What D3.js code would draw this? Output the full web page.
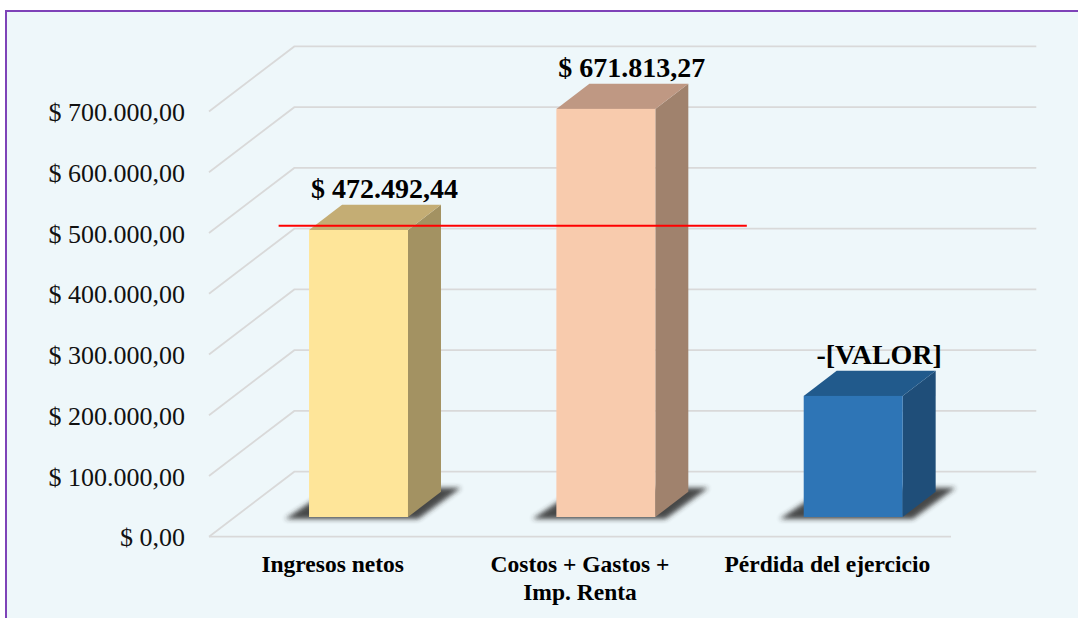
<!DOCTYPE html>
<html>
<head>
<meta charset="utf-8">
<script src="https://cdn.jsdelivr.net/npm/d3@7"></script>
<style>
  body { margin: 0; background: #fff; }
  svg { display: block; }
</style>
</head>
<body>
<svg></svg>
<script>
// data
let categories = ['Ingresos netos', 'Costos + Gastos + Imp. Renta', 'Pérdida del ejercicio'];
let categoryLines = [['Ingresos netos'], ['Costos + Gastos +', 'Imp. Renta'], ['Pérdida del ejercicio']];
let values = [472492.44, 671813.27, 199320.83];
let valueLabels = ['$ 472.492,44', '$ 671.813,27', '-[VALOR]'];
let yTicks = [0, 100000, 200000, 300000, 400000, 500000, 600000, 700000];
let markerValue = [479500]; // hand drawn red line
let markerSpan = [0.177, 2.07]; // in category units

// colours per bar: front, side, top
let frontColors = ['#fee599', '#f8cbad', '#2e75b6'];
let sideColors = ['#a39262', '#a0826d', '#1f4e79'];
let topColors = ['#c4ad74', '#bf9883', '#215a8c'];

let width = 1078, height = 618;
let svg = d3.select('svg').attr('width', width).attr('height', height);

// 3d floor geometry
let floorLeft = 209, floorRight = 951, floorFront = 536.7;
let depthX = 85.3, depthY = -65;
let barStart = 0.303, barDepth = 0.387;

let locale = d3.formatLocale({ decimal: ',', thousands: '.', grouping: [3], currency: ['$ ', ''] });
let fmt = locale.format('$,.2f');

// chart area
svg.append('rect')
    .attr('x', 6).attr('y', 11)
    .attr('width', 1100).attr('height', 700)
    .attr('fill', '#eef7fa')
    .attr('stroke', '#7e43b8')
    .attr('stroke-width', 2);

let defs = svg.append('defs');
defs.append('filter').attr('id', 'shadow')
    .attr('x', '-20%').attr('y', '-50%').attr('width', '140%').attr('height', '200%')
    .append('feGaussianBlur').attr('stdDeviation', 2.5);

// scales
let yScale = d3.scaleLinear().domain([0, 700000]).range([floorFront, floorFront - 425.25]);
let xBand = d3.scaleBand().domain(categories).range([floorLeft, floorRight])
    .paddingInner(0.6).paddingOuter(0.3);
let xCat = d3.scaleBand().domain(categories).range([floorLeft, floorRight]);
let xUnits = d3.scaleLinear().domain([0, categories.length])
    .range([floorLeft + depthX * barStart, floorRight + depthX * barStart]);

// gridlines: side wall diagonal + back wall line
let grid = svg.append('g')
    .attr('fill', 'none')
    .attr('stroke', '#d9d9d9')
    .attr('stroke-width', 1.8);

grid.selectAll('path.grid')
    .data(yTicks)
    .enter()
    .append('path')
    .attr('class', 'grid')
    .attr('d', (d) => {
        let y = yScale(d);
        return `M${floorLeft},${y}L${floorLeft + depthX},${y + depthY}L${floorRight + depthX},${y + depthY}`;
    });

// floor front edge
grid.append('path')
    .attr('d', `M${floorLeft},${yScale(0)}L${floorRight},${yScale(0)}`);

// y axis labels
let yAxis = d3.axisLeft(yScale).tickValues(yTicks).tickFormat(fmt).tickSize(0).tickPadding(24);
let axisG = svg.append('g')
    .attr('transform', `translate(${floorLeft},0)`)
    .call(yAxis);
axisG.select('.domain').remove();
axisG.attr('font-family', '"Liberation Serif", "Times New Roman", serif')
    .attr('font-size', 26);
axisG.selectAll('text').attr('fill', '#111').attr('dy', '0.35em');

// bars
let bw = xBand.bandwidth();
let bdx = depthX * barDepth, bdy = depthY * barDepth;
let base = floorFront + depthY * barStart;

let bars = svg.selectAll('g.bar')
    .data(values)
    .enter()
    .append('g')
    .attr('class', 'bar');

bars.append('polygon')
    .attr('points', (d, i) => {
        let fx = xBand(categories[i]) + depthX * barStart;
        return [
            [fx - 24, base + 2],
            [fx + bw + 10, base + 2],
            [fx + bw + bdx + 20, base + bdy - 4],
            [fx + bdx - 10, base + bdy - 4]
        ].join(' ');
    })
    .attr('fill', '#2b2b2b')
    .attr('opacity', 0.85)
    .attr('filter', 'url(#shadow)');

bars.append('polygon')
    .attr('points', (d, i) => {
        let fx = xBand(categories[i]) + depthX * barStart;
        let top = yScale(d) + depthY * barStart;
        return [
            [fx + bw, top], [fx + bw + bdx, top + bdy],
            [fx + bw + bdx, base + bdy], [fx + bw, base]
        ].join(' ');
    })
    .attr('fill', (d, i) => sideColors[i]);

bars.append('polygon')
    .attr('points', (d, i) => {
        let fx = xBand(categories[i]) + depthX * barStart;
        let top = yScale(d) + depthY * barStart;
        return [
            [fx, top], [fx + bdx, top + bdy],
            [fx + bw + bdx, top + bdy], [fx + bw, top]
        ].join(' ');
    })
    .attr('fill', (d, i) => topColors[i]);

bars.append('rect')
    .attr('x', (d, i) => xBand(categories[i]) + depthX * barStart)
    .attr('y', (d) => yScale(d) + depthY * barStart)
    .attr('width', bw)
    .attr('height', (d) => base - (yScale(d) + depthY * barStart))
    .attr('fill', (d, i) => frontColors[i]);

// value labels
svg.selectAll('text.value')
    .data(values)
    .enter()
    .append('text')
    .attr('class', 'value')
    .attr('x', (d, i) => xBand(categories[i]) + depthX * barStart + bw / 2 + 26)
    .attr('y', (d) => yScale(d) + depthY * barStart + bdy - 7)
    .attr('text-anchor', 'middle')
    .attr('font-family', '"Liberation Serif", "Times New Roman", serif')
    .attr('font-weight', 'bold')
    .attr('font-size', 28)
    .attr('fill', '#000')
    .text((d, i) => valueLabels[i]);

// category labels
let catG = svg.selectAll('text.cat')
    .data(categories)
    .enter()
    .append('text')
    .attr('class', 'cat')
    .attr('text-anchor', 'middle')
    .attr('font-family', '"Liberation Serif", "Times New Roman", serif')
    .attr('font-weight', 'bold')
    .attr('font-size', 23.5)
    .attr('fill', '#000');

catG.selectAll('tspan')
    .data((d, i) => categoryLines[i].map((line) => ({ line, c: d })))
    .enter()
    .append('tspan')
    .attr('x', (d) => xCat(d.c) + xCat.bandwidth() / 2)
    .attr('y', (d, j) => floorFront + 35.3 + j * 28)
    .text((d) => d.line);

// red marker line
svg.selectAll('line.marker')
    .data(markerValue)
    .enter()
    .append('line')
    .attr('class', 'marker')
    .attr('x1', xUnits(markerSpan[0]))
    .attr('x2', xUnits(markerSpan[1]))
    .attr('y1', (d) => yScale(d) + depthY * barStart)
    .attr('y2', (d) => yScale(d) + depthY * barStart)
    .attr('stroke', '#ff0000')
    .attr('stroke-width', 2);
</script>
</body>
</html>
